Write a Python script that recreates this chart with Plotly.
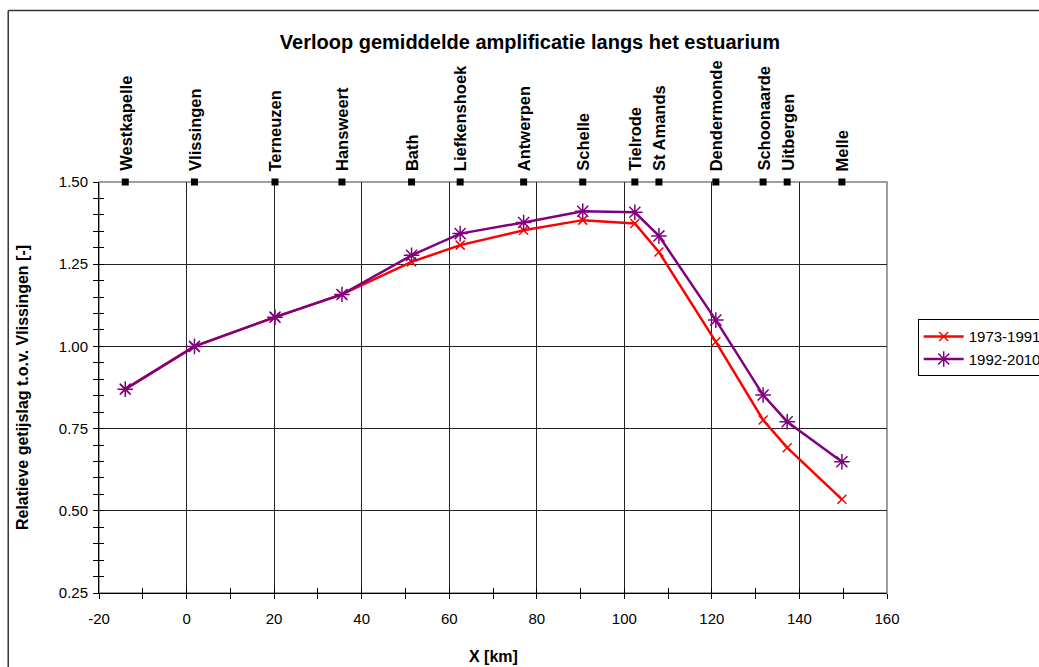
import plotly.graph_objects as go

# ---- data ----
stations = ["Westkapelle", "Vlissingen", "Terneuzen", "Hansweert", "Bath", "Liefkenshoek",
            "Antwerpen", "Schelle", "Tielrode", "St Amands", "Dendermonde", "Schoonaarde",
            "Uitbergen", "Melle"]
km = [-14.0, 1.8, 20.2, 35.5, 51.4, 62.5, 77.0, 90.5, 102.4, 107.9, 120.9, 131.7, 137.2, 149.7]
amp_1973_1991 = [0.870, 1.000, 1.089, 1.158, 1.257, 1.308, 1.353, 1.384, 1.374, 1.287,
                 1.014, 0.776, 0.692, 0.535]
amp_1992_2010 = [0.870, 1.000, 1.089, 1.158, 1.277, 1.343, 1.377, 1.411, 1.408, 1.336,
                 1.080, 0.852, 0.771, 0.649]
series_names = ["1973-1991", "1992-2010"]
station_level = 1.5
x_tickvals = [-20, 0, 20, 40, 60, 80, 100, 120, 140, 160]
x_ticktext = ["-20", "0", "20", "40", "60", "80", "100", "120", "140", "160"]

X_RANGE = [-20, 160]
Y_RANGE = [0.25, 1.5]
FONT = "Liberation Sans, Arial, sans-serif"

fig = go.Figure()

fig.add_trace(go.Scatter(
    x=km, y=amp_1973_1991, name=series_names[0], mode="lines+markers",
    line=dict(color="#FF0000", width=2.5),
    marker=dict(symbol="x-thin-open", size=9, line=dict(color="#FF0000", width=1.5)),
    cliponaxis=False,
))
fig.add_trace(go.Scatter(
    x=km, y=amp_1992_2010, name=series_names[1], mode="lines+markers",
    line=dict(color="#800080", width=2.5),
    marker=dict(symbol="asterisk-open", size=13, line=dict(color="#800080", width=1.5)),
    cliponaxis=False,
))
# station markers along the top
fig.add_trace(go.Scatter(
    x=km, y=[station_level] * len(km), mode="markers", showlegend=False,
    marker=dict(symbol="square", size=7, color="black"),
    cliponaxis=False, hoverinfo="text", text=stations,
))
# dummy trace to create overlay axes for inside ticks
fig.add_trace(go.Scatter(x=[], y=[], xaxis="x2", yaxis="y2", showlegend=False,
                         hoverinfo="skip"))

for name, xv in zip(stations, km):
    fig.add_annotation(
        x=xv, y=station_level, xref="x", yref="y", text=f"<b>{name}</b>",
        textangle=-90, showarrow=False, xanchor="center", yanchor="bottom",
        yshift=9, font=dict(family=FONT, size=16.5, color="black"),
    )

# x-axis title placed as annotation (below the margin constraint)
fig.add_annotation(
    x=0.5, y=-0.155, xref="paper", yref="paper", text="<b>X [km]</b>", showarrow=False,
    xanchor="center", yanchor="middle", font=dict(family=FONT, size=16, color="black"),
)

axis_common = dict(
    showline=True, linecolor="black", linewidth=1,
    tickfont=dict(family=FONT, size=15, color="black"),
    ticks="outside", ticklen=5, tickcolor="black", tickwidth=1,
    zeroline=False,
)

fig.update_layout(
    width=1039, height=667,
    paper_bgcolor="white", plot_bgcolor="white",
    margin=dict(l=99, r=152, t=182, b=74, pad=0),
    font=dict(family=FONT, color="black"),
    title=dict(text="<b>Verloop gemiddelde amplificatie langs het estuarium</b>",
               x=0.51, xanchor="center", y=0.937, yanchor="middle", yref="container",
               font=dict(family=FONT, size=20, color="black")),
    xaxis=dict(range=X_RANGE, tickmode="array", tickvals=x_tickvals, ticktext=x_ticktext,
               showgrid=True, gridcolor="#222222", gridwidth=1, ticklabelstandoff=7,
               minor=dict(dtick=10, tick0=0, ticks="outside", ticklen=5, tickcolor="black",
                          showgrid=False),
               **axis_common),
    yaxis=dict(range=Y_RANGE, dtick=0.25, tick0=0, tickformat=".2f", showgrid=True,
               gridcolor="#222222", gridwidth=1, ticklabelstandoff=2,
               minor=dict(dtick=0.05, tick0=0, ticks="outside", ticklen=5, tickcolor="black",
                          showgrid=False),
               title=dict(text="<b>Relatieve getijslag t.o.v. Vlissingen [-]</b>",
                          font=dict(family=FONT, size=16), standoff=26),
               **axis_common),
    xaxis2=dict(range=X_RANGE, overlaying="x", anchor="y", side="bottom", dtick=20, tick0=0,
                showgrid=False, showticklabels=False, zeroline=False, showline=False,
                ticks="inside", ticklen=5, tickcolor="black",
                minor=dict(dtick=10, tick0=0, ticks="inside", ticklen=5, tickcolor="black")),
    yaxis2=dict(range=Y_RANGE, overlaying="y", anchor="x", side="left", dtick=0.25, tick0=0,
                showgrid=False, showticklabels=False, zeroline=False, showline=False,
                ticks="inside", ticklen=5, tickcolor="black",
                minor=dict(dtick=0.05, tick0=0, ticks="inside", ticklen=5, tickcolor="black")),
    legend=dict(xref="container", yref="container", x=917.7 / 1039, y=1 - 319.3 / 667,
                xanchor="left", yanchor="top",
                bordercolor="black", borderwidth=1, bgcolor="white",
                font=dict(family=FONT, size=15, color="black"),
                itemwidth=40, tracegroupgap=0),
    shapes=[
        # gray frame of plot area (top/right)
        dict(type="rect", xref="paper", yref="paper", x0=0, x1=1, y0=0, y1=1,
             line=dict(color="#808080", width=1.5), layer="below"),
        # outer chart frame: left and top edges (others lie outside the view)
        dict(type="line", xref="paper", yref="paper", x0=-0.1152, x1=-0.1152, y0=-0.3, y1=1.4172,
             line=dict(color="#333333", width=1.5), layer="below"),
        dict(type="line", xref="paper", yref="paper", x0=-0.1152, x1=1.5, y0=1.4172, y1=1.4172,
             line=dict(color="#333333", width=1.5), layer="below"),
    ],
)

fig.write_html("out.html", config={"displayModeBar": False},
               post_script="document.documentElement.style.overflow='hidden';"
                           "document.body.style.margin='0';document.body.style.overflow='hidden';")
